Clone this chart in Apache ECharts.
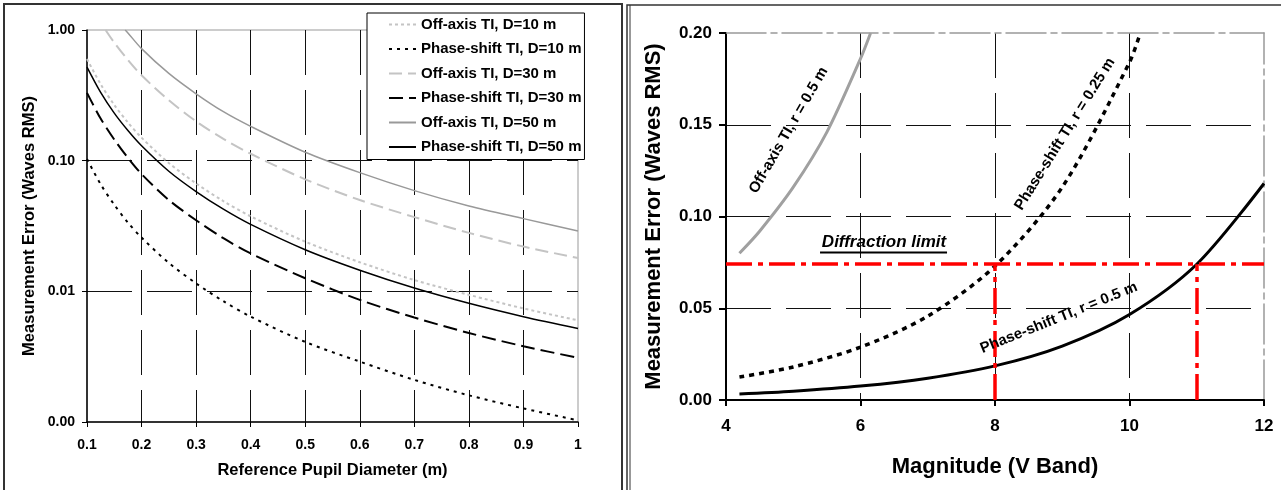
<!DOCTYPE html>
<html>
<head>
<meta charset="utf-8">
<title>Measurement error</title>
<script src="https://cdn.jsdelivr.net/npm/echarts@6/dist/echarts.min.js"></script>
<style>
  html, body { margin: 0; padding: 0; background: #fff; }
  #main { width: 1281px; height: 490px; }
</style>
</head>
<body>
<div id="main"></div>
<script>
// left panel: error vs reference pupil diameter (log y)
var offAxisD10   = [[0.1,0.60],[0.125,0.385],[0.15,0.267],[0.175,0.196],[0.2,0.150],[0.25,0.096],[0.3,0.067],[0.35,0.049],[0.4,0.0375],[0.5,0.024],[0.6,0.0167],[0.7,0.0122],[0.8,0.0094],[0.9,0.0074],[1.0,0.0060]];
var phaseShiftD10 = [[0.1,0.103],[0.125,0.066],[0.15,0.046],[0.175,0.0336],[0.2,0.0258],[0.25,0.0165],[0.3,0.0115],[0.35,0.0084],[0.4,0.0064],[0.5,0.0041],[0.6,0.0029],[0.7,0.0021],[0.8,0.0016],[0.9,0.00127],[1.0,0.00103]];
var offAxisD30   = [[0.134,1.0],[0.15,0.80],[0.175,0.59],[0.2,0.45],[0.25,0.29],[0.3,0.20],[0.35,0.147],[0.4,0.113],[0.5,0.072],[0.6,0.050],[0.7,0.037],[0.8,0.028],[0.9,0.022],[1.0,0.018]];
var phaseShiftD30 = [[0.1,0.33],[0.125,0.21],[0.15,0.145],[0.175,0.105],[0.2,0.079],[0.25,0.050],[0.3,0.035],[0.35,0.0255],[0.4,0.0195],[0.5,0.0126],[0.6,0.0086],[0.7,0.0063],[0.8,0.0048],[0.9,0.0038],[1.0,0.0031]];
var offAxisD50   = [[0.170,1.0],[0.175,0.95],[0.2,0.72],[0.25,0.465],[0.3,0.325],[0.35,0.237],[0.4,0.183],[0.5,0.116],[0.6,0.081],[0.7,0.059],[0.8,0.045],[0.9,0.036],[1.0,0.029]];
var phaseShiftD50 = [[0.1,0.52],[0.125,0.333],[0.15,0.231],[0.175,0.170],[0.2,0.130],[0.25,0.083],[0.3,0.058],[0.35,0.0425],[0.4,0.0325],[0.5,0.0208],[0.6,0.0145],[0.7,0.0106],[0.8,0.0081],[0.9,0.0064],[1.0,0.0052]];

// right panel: error vs magnitude
var offAxisR05   = [[4.2,0.080],[4.5,0.092],[5.0,0.116],[5.5,0.146],[6.0,0.186],[6.15,0.200]];
var phaseShiftR025 = [[4.2,0.0125],[5,0.018],[6,0.0288],[7,0.0457],[8,0.0730],[9,0.116],[10,0.184],[10.16,0.200]];
var phaseShiftR05 = [[4.2,0.0033],[5,0.0048],[6,0.0076],[7,0.0119],[8,0.0186],[9,0.0294],[10,0.0466],[11,0.074],[12,0.118]];
var diffLimit = 0.074;
var crossMags = [8, 11];

// text labels on the right panel: [text, magnitude, error, angle]
var notes = [
  ['Off-axis TI, r = 0.5 m', 4.93, 0.147, 60],
  ['Phase-shift TI, r = 0.25 m', 9.04, 0.145, 58],
  ['Phase-shift TI, r = 0.5 m', 8.95, 0.0447, 22]
];
var diffNote = ['Diffraction limit', 6.35, 0.0858];

var FONT = 'Liberation Sans, Arial, sans-serif';
var chart = echarts.init(document.getElementById('main'));

function line(name, data, grid, color, width, type) {
  return {
    name: name, type: 'line', xAxisIndex: grid, yAxisIndex: grid,
    data: data, symbol: 'none', showSymbol: false, smooth: 0.3,
    lineStyle: { color: color, width: width, type: type },
    itemStyle: { color: color }, z: 3
  };
}

var gridDash = { color: '#111', width: 1, type: [45, 15] };

var option = {
  animation: false,
  backgroundColor: '#fff',
  textStyle: { fontFamily: FONT },
  grid: [
    { left: 87, top: 30, width: 491, height: 392, show: true, borderColor: '#999', borderWidth: 1 },
    { left: 726, top: 33, width: 538, height: 367 }
  ],
  legend: {
    data: ['Off-axis TI, D=10 m', 'Phase-shift TI, D=10 m', 'Off-axis TI, D=30 m',
           'Phase-shift TI, D=30 m', 'Off-axis TI, D=50 m', 'Phase-shift TI, D=50 m'],
    orient: 'vertical', left: 367, top: 13, align: 'left',
    itemWidth: 27, itemHeight: 15, itemGap: 9.5,
    padding: [4, 3, 5, 21],
    itemStyle: { opacity: 0 },
    backgroundColor: '#fff', borderColor: '#000', borderWidth: 1,
    textStyle: { fontFamily: FONT, fontWeight: 'bold', fontSize: 15, color: '#000' },
    z: 10
  },
  xAxis: [
    {
      gridIndex: 0, type: 'value', min: 0.1, max: 1, interval: 0.1,
      name: 'Reference Pupil Diameter (m)', nameLocation: 'middle', nameGap: 40,
      nameTextStyle: { fontFamily: FONT, fontWeight: 'bold', fontSize: 16.5, color: '#000' },
      axisLine: { onZero: false, lineStyle: { color: '#000', width: 1.5 } },
      axisTick: { length: 5, lineStyle: { color: '#000' } },
      axisLabel: { margin: 16, fontFamily: FONT, fontWeight: 'bold', fontSize: 14, color: '#000',
        formatter: function (v) { return Math.abs(v - 1) < 1e-9 ? '1' : v.toFixed(1); } },
      splitLine: { show: true, showMinLine: false, showMaxLine: false, lineStyle: gridDash }
    },
    {
      gridIndex: 1, type: 'value', min: 4, max: 12, interval: 2,
      name: 'Magnitude (V Band)', nameLocation: 'middle', nameGap: 56,
      nameTextStyle: { fontFamily: FONT, fontWeight: 'bold', fontSize: 22, color: '#000' },
      axisLine: { onZero: false, lineStyle: { color: '#000', width: 2 } },
      axisTick: { length: 6, lineStyle: { color: '#000', width: 2 } },
      axisLabel: { margin: 18, fontFamily: FONT, fontWeight: 'bold', fontSize: 17, color: '#000' },
      splitLine: { show: true, showMinLine: false, showMaxLine: false, lineStyle: gridDash }
    },
    {
      gridIndex: 1, type: 'value', position: 'top', min: 4, max: 12,
      axisLine: { onZero: false, lineStyle: { color: '#999', width: 1.5, type: [40, 5, 6, 5] } },
      axisTick: { show: false }, axisLabel: { show: false }, splitLine: { show: false }
    }
  ],
  yAxis: [
    {
      gridIndex: 0, type: 'log', logBase: 10, min: 0.001, max: 1,
      name: 'Measurement Error (Waves RMS)', nameLocation: 'middle', nameGap: 49,
      nameTextStyle: { fontFamily: FONT, fontWeight: 'bold', fontSize: 16.5, color: '#000' },
      axisLine: { show: true, onZero: false, lineStyle: { color: '#000', width: 1.5 } },
      axisTick: { show: true, length: 5, lineStyle: { color: '#000' } },
      axisLabel: { margin: 12, fontFamily: FONT, fontWeight: 'bold', fontSize: 14, color: '#000',
        formatter: function (v) { return v.toFixed(2); } },
      splitLine: { show: true, showMinLine: false, showMaxLine: false, lineStyle: gridDash }
    },
    {
      gridIndex: 1, type: 'value', min: 0, max: 0.2, interval: 0.05,
      name: 'Measurement Error (Waves RMS)', nameLocation: 'middle', nameGap: 61,
      nameTextStyle: { fontFamily: FONT, fontWeight: 'bold', fontSize: 22, color: '#000' },
      axisLine: { show: true, onZero: false, lineStyle: { color: '#000', width: 2 } },
      axisTick: { show: true, length: 7, lineStyle: { color: '#000', width: 2 } },
      axisLabel: { margin: 14, fontFamily: FONT, fontWeight: 'bold', fontSize: 17, color: '#000',
        formatter: function (v) { return v.toFixed(2); } },
      splitLine: { show: true, showMinLine: false, showMaxLine: false, lineStyle: gridDash }
    },
    {
      gridIndex: 1, type: 'value', position: 'right', min: 0, max: 0.2,
      axisLine: { show: true, onZero: false, lineStyle: { color: '#999', width: 1.5, type: [40, 5, 6, 5] } },
      axisTick: { show: false }, axisLabel: { show: false }, splitLine: { show: false }
    }
  ],
  series: [
    line('Off-axis TI, D=10 m', offAxisD10, 0, '#c4c4c4', 2, [3, 3]),
    line('Phase-shift TI, D=10 m', phaseShiftD10, 0, '#000', 2, [3, 5]),
    line('Off-axis TI, D=30 m', offAxisD30, 0, '#c4c4c4', 2, [13, 6]),
    line('Phase-shift TI, D=30 m', phaseShiftD30, 0, '#000', 2, [14, 6]),
    line('Off-axis TI, D=50 m', offAxisD50, 0, '#999', 1.5, 'solid'),
    line('Phase-shift TI, D=50 m', phaseShiftD50, 0, '#000', 1.5, 'solid'),
    line('Off-axis TI, r = 0.5 m', offAxisR05, 1, '#a0a0a0', 3, 'solid'),
    line('Phase-shift TI, r = 0.25 m', phaseShiftR025, 1, '#000', 3.5, [5, 5]),
    Object.assign(line('Phase-shift TI, r = 0.5 m', phaseShiftR05, 1, '#000', 3, 'solid'), {
      markLine: {
        silent: true, symbol: ['none', 'none'], label: { show: false },
        lineStyle: { color: '#ff0000', width: 3.5, type: [26, 6, 5, 6] },
        data: [
          [{ coord: [4, diffLimit] }, { coord: [12, diffLimit] }],
          [{ coord: [crossMags[0], 0] }, { coord: [crossMags[0], diffLimit] }],
          [{ coord: [crossMags[1], 0] }, { coord: [crossMags[1], diffLimit] }]
        ]
      }
    })
  ]
};
chart.setOption(option);

// panel frames and the rotated curve labels
var g = [
  { type: 'rect', shape: { x: 4, y: 4, width: 618, height: 600 }, style: { fill: 'none', stroke: '#333', lineWidth: 2 }, z: 0 },
  { type: 'rect', shape: { x: 627, y: 5, width: 700, height: 600 }, style: { fill: 'none', stroke: '#333', lineWidth: 1.5 }, z: 0 },
  { type: 'line', shape: { x1: 630, y1: 5, x2: 630, y2: 600 }, style: { stroke: '#333', lineWidth: 1 }, z: 0 }
];
notes.forEach(function (n) {
  var p = chart.convertToPixel({ xAxisIndex: 1, yAxisIndex: 1 }, [n[1], n[2]]);
  g.push({
    type: 'text', x: p[0], y: p[1], rotation: n[3] * Math.PI / 180, z: 20,
    style: { text: n[0], fill: '#000', fontFamily: FONT, fontWeight: 'bold', fontSize: 15, align: 'center', verticalAlign: 'middle' }
  });
});
var dp = chart.convertToPixel({ xAxisIndex: 1, yAxisIndex: 1 }, [diffNote[1], diffNote[2]]);
g.push({
  type: 'text', x: dp[0], y: dp[1], z: 20,
  style: { text: diffNote[0], fill: '#000', fontFamily: FONT, fontWeight: 'bold', fontStyle: 'italic', fontSize: 17, align: 'center', verticalAlign: 'middle' }
});
g.push({ type: 'line', shape: { x1: dp[0] - 64, y1: dp[1] + 10, x2: dp[0] + 63, y2: dp[1] + 10 }, style: { stroke: '#000', lineWidth: 2 }, z: 20 });
chart.setOption({ graphic: g });
</script>
</body>
</html>
